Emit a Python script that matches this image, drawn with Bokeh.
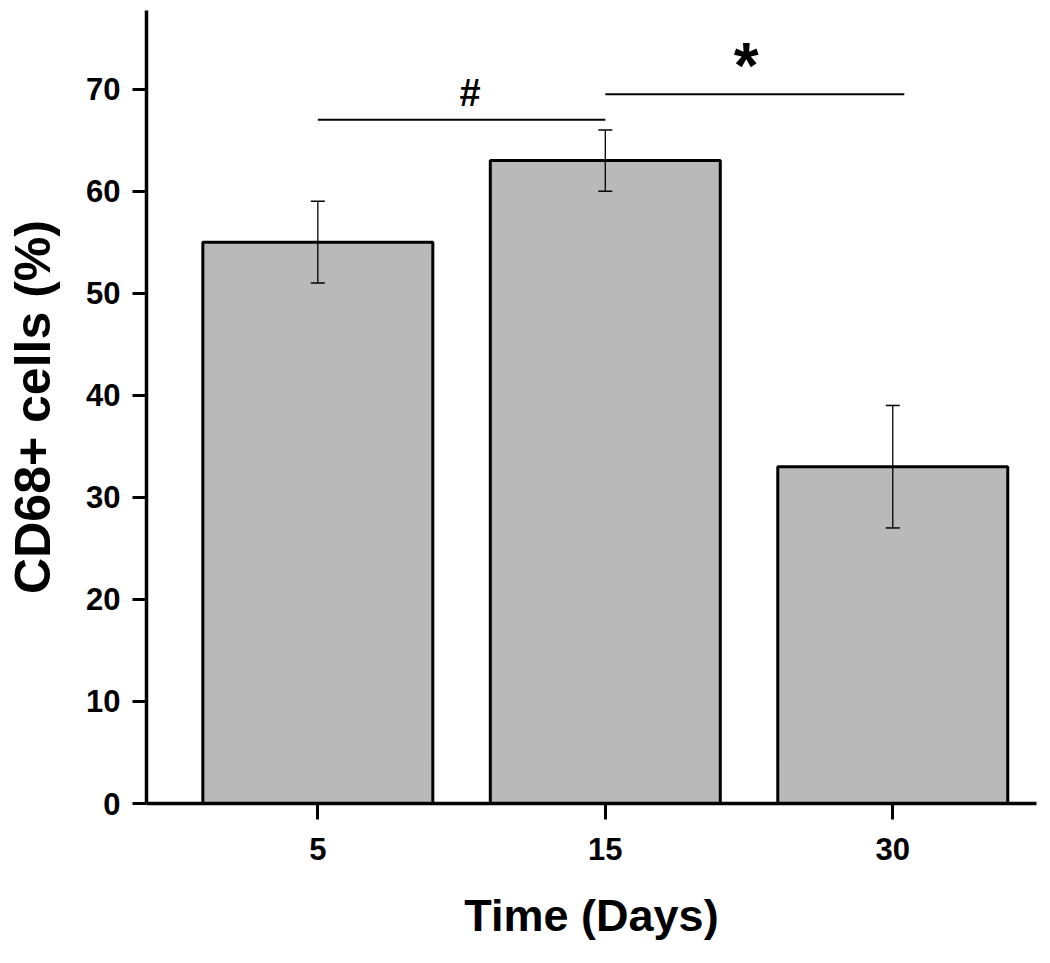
from bokeh.plotting import figure
from bokeh.models import ColumnDataSource, Whisker, TeeHead, FixedTicker, Range1d
from bokeh.core.properties import value
from bokeh.embed import file_html
from bokeh.resources import INLINE

# ---- data ----
days = ["5", "15", "30"]
positions = [1, 2, 3]
cd68_pct = [55, 63, 33]
err = [4, 3, 6]

sig_pairs = [(1, 2), (2, 3.04)]
sig_level = [67, 69.5]
sig_text = ["#", "*"]
sig_text_x = [1.53, 2.49]
sig_text_y = [69.6, 72.3]

SANS = "Liberation Sans"

p = figure(width=1050, height=963, output_backend="svg", toolbar_location=None,
           x_range=Range1d(0.404, 3.5), y_range=Range1d(0, 77.7),
           min_border_left=146, min_border_right=14, min_border_top=10, min_border_bottom=160)
p.outline_line_color = None
p.xgrid.visible = False
p.ygrid.visible = False
p.background_fill_color = "white"

src = ColumnDataSource(dict(x=positions, top=cd68_pct,
                            upper=[v + e for v, e in zip(cd68_pct, err)],
                            lower=[v - e for v, e in zip(cd68_pct, err)]))
p.vbar(x="x", top="top", width=0.8, bottom=0, source=src,
       fill_color="#b9b9b9", line_color="black", line_width=3)

w = Whisker(base="x", upper="upper", lower="lower", source=src, level="annotation",
            line_color="black", line_width=1.3,
            upper_head=TeeHead(size=14, line_color="black", line_width=1.5),
            lower_head=TeeHead(size=14, line_color="black", line_width=1.5))
p.add_layout(w)

# significance bars
p.segment(x0=[a for a, b in sig_pairs], x1=[b for a, b in sig_pairs],
          y0=sig_level, y1=sig_level, line_color="black", line_width=2)
p.text(x=sig_text_x[:1], y=sig_text_y[:1], text=sig_text[:1], text_font=value(SANS),
       text_font_style="bold", text_font_size="38px", text_align="center",
       text_baseline="middle", text_color="black")
p.text(x=sig_text_x[1:], y=sig_text_y[1:], text=sig_text[1:], text_font=value(SANS),
       text_font_style="bold", text_font_size="64px", text_align="center",
       text_baseline="middle", text_color="black")

# axes
p.xaxis.ticker = FixedTicker(ticks=positions)
p.xaxis.major_label_overrides = {pos: d for pos, d in zip(positions, days)}
p.yaxis.ticker = FixedTicker(ticks=list(range(0, 71, 10)))

for ax in (p.xaxis[0], p.yaxis[0]):
    ax.axis_line_width = 3.5
    ax.axis_line_color = "black"
    ax.major_tick_line_width = 3
    ax.major_tick_line_color = "black"
    ax.major_tick_in = 0
    ax.minor_tick_line_color = None
    ax.major_label_text_font = SANS
    ax.major_label_text_font_style = "bold"
    ax.major_label_text_font_size = "31px"
    ax.major_label_text_color = "black"
    ax.axis_label_text_font = SANS
    ax.axis_label_text_font_style = "bold"
    ax.axis_label_text_color = "black"

p.yaxis.major_tick_out = 14
p.yaxis.major_label_standoff = 12
p.yaxis.axis_label = "CD68+ cells (%)"
p.yaxis.axis_label_text_font_size = "50px"
p.yaxis.axis_label_standoff = 22

p.xaxis.major_tick_out = 16
p.xaxis.major_label_standoff = 18
p.xaxis.axis_label = "Time (Days)"
p.xaxis.axis_label_text_font_size = "45px"
p.xaxis.axis_label_standoff = 27

open("out.html", "w").write(file_html(p, INLINE))
